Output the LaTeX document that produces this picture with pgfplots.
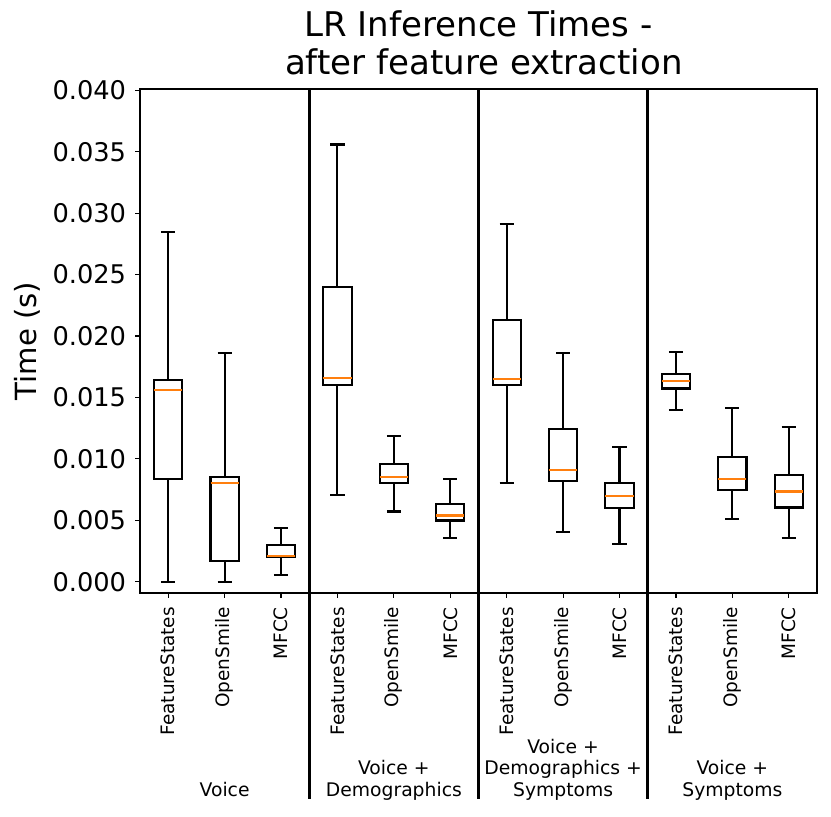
\documentclass[border=0pt]{standalone}
\usepackage{fontspec}
\setmainfont{DejaVu Sans}
\usepackage{pgfplots}
\usepgfplotslibrary{statistics}
\pgfplotsset{compat=1.18}
\definecolor{mplorange}{HTML}{FF7F0E}
\def\px{0.72pt}

\begin{document}
\begin{tikzpicture}
\useasboundingbox (-140*\px,-224*\px) rectangle (691*\px,593*\px);
% values are in milliseconds (seconds x 1000); tick labels show seconds
\begin{axis}[
    name=ax,
    at={(0,0)}, anchor=south west,
    scale only axis,
    width=487.44pt, height=362.88pt,
    xmin=0.5, xmax=12.5,
    ymin=-0.92, ymax=40.1,
    clip=false,
    axis line style={line width=0.8pt},
    tick align=outside,
    tick pos=left,
    major tick length=3.5pt,
    every tick/.style={black, line width=0.8pt},
    xtick={1,2,3,4,5,6,7,8,9,10,11,12},
    xticklabels={FeatureStates,OpenSmile,MFCC,FeatureStates,OpenSmile,MFCC,
                 FeatureStates,OpenSmile,MFCC,FeatureStates,OpenSmile,MFCC},
    xticklabel shift=6.5pt,
    xticklabel style={rotate=90, anchor=east, inner sep=0pt,
                      font=\fontsize{13.3}{16}\selectfont},
    ytick={0,5,10,15,20,25,30,35,40},
    yticklabels={0.000,0.005,0.010,0.015,0.020,0.025,0.030,0.035,0.040},
    yticklabel style={inner sep=0pt, xshift=-6.3pt,
                      font=\fontsize{18.5}{22}\selectfont},
    boxplot/draw direction=y,
    boxplot/every box/.style={draw=black, line width=1.5pt},
    boxplot/every whisker/.style={draw=black, line width=1.5pt},
    boxplot/every median/.style={draw=mplorange, color=mplorange, line width=1.5pt},
    boxplot/box extend=0.5,
    boxplot/whisker extend=0.25,
]
% lower whisker, lower quartile, median, upper quartile, upper whisker
% Voice
\addplot[black, boxplot prepared={draw position=1, lower whisker=0.00, lower quartile=8.36, median=15.62, upper quartile=16.43, upper whisker=28.49}] coordinates {};
\addplot[black, boxplot prepared={draw position=2, lower whisker=0.00, lower quartile=1.70, median=8.01, upper quartile=8.50, upper whisker=18.59}] coordinates {};
\addplot[black, boxplot prepared={draw position=3, lower whisker=0.52, lower quartile=1.98, median=2.06, upper quartile=3.00, upper whisker=4.36}] coordinates {};
% Voice + Demographics
\addplot[black, boxplot prepared={draw position=4, lower whisker=7.06, lower quartile=16.02, median=16.59, upper quartile=23.98, upper whisker=35.58}] coordinates {};
\addplot[black, boxplot prepared={draw position=5, lower whisker=5.71, lower quartile=8.04, median=8.50, upper quartile=9.58, upper whisker=11.83}] coordinates {};
\addplot[black, boxplot prepared={draw position=6, lower whisker=3.55, lower quartile=4.98, median=5.39, upper quartile=6.33, upper whisker=8.34}] coordinates {};
% Voice + Demographics + Symptoms
\addplot[black, boxplot prepared={draw position=7, lower whisker=8.04, lower quartile=16.02, median=16.53, upper quartile=21.32, upper whisker=29.11}] coordinates {};
\addplot[black, boxplot prepared={draw position=8, lower whisker=4.01, lower quartile=8.23, median=9.07, upper quartile=12.40, upper whisker=18.59}] coordinates {};
\addplot[black, boxplot prepared={draw position=9, lower whisker=3.08, lower quartile=6.01, median=7.01, upper quartile=8.01, upper whisker=10.96}] coordinates {};
% Voice + Symptoms
\addplot[black, boxplot prepared={draw position=10, lower whisker=13.94, lower quartile=15.72, median=16.37, upper quartile=16.94, upper whisker=18.70}] coordinates {};
\addplot[black, boxplot prepared={draw position=11, lower whisker=5.11, lower quartile=7.47, median=8.39, upper quartile=10.18, upper whisker=14.12}] coordinates {};
\addplot[black, boxplot prepared={draw position=12, lower whisker=3.52, lower quartile=6.04, median=7.34, upper quartile=8.69, upper whisker=12.56}] coordinates {};

% group separators, running down into the label area (clip=false)
\addplot[black, line width=2pt, mark=none] coordinates {(3.5,40.1) (3.5,-17.72)};
\addplot[black, line width=2pt, mark=none] coordinates {(6.5,40.1) (6.5,-17.72)};
\addplot[black, line width=2pt, mark=none] coordinates {(9.5,40.1) (9.5,-17.72)};

% group labels
\node[anchor=south, align=center, inner sep=0pt, font=\fontsize{13.5}{15.5}\selectfont]
  at (axis cs:2,-18.0) {Voice\strut};
\node[anchor=south, align=center, inner sep=0pt, font=\fontsize{13.5}{15.5}\selectfont]
  at (axis cs:5,-18.0) {Voice +\\Demographics\strut};
\node[anchor=south, align=center, inner sep=0pt, font=\fontsize{13.5}{15.5}\selectfont]
  at (axis cs:8,-18.0) {Voice +\\Demographics +\\Symptoms\strut};
\node[anchor=south, align=center, inner sep=0pt, font=\fontsize{13.5}{15.5}\selectfont]
  at (axis cs:11,-18.0) {Voice +\\Symptoms\strut};
\end{axis}

% title and y label
\node[anchor=base, font=\fontsize{24.5}{29}\selectfont] at ([yshift=52*\px]ax.north) {LR Inference Times -};
\node[anchor=base, font=\fontsize{24.5}{29}\selectfont] at ([yshift=14*\px, xshift=5.4*\px]ax.north) {after feature extraction};
\node[rotate=90, anchor=base, font=\fontsize{21}{25}\selectfont] at ([xshift=-103*\px]ax.west) {Time (s)};
\end{tikzpicture}
\end{document}
